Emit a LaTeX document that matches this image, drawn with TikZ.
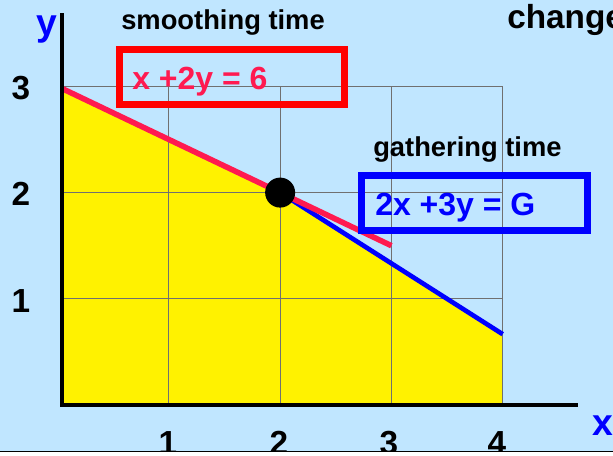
\documentclass[tikz,border=0pt]{standalone}
\usepackage{fontspec}
\setmainfont{Liberation Sans}
\definecolor{bg}{HTML}{C0E6FF}
\definecolor{pinkred}{HTML}{FF1A50}
\definecolor{gridgray}{HTML}{707070}
\tikzset{
  gridline/.style={draw=gridgray, line width=0.75pt},
  axisline/.style={draw=black, line width=2.6pt, line join=miter},
  lbl/.style={inner sep=0pt, anchor=base west, font=\bfseries\fontsize{20.5}{24}\selectfont},
  ticklbl/.style={inner sep=0pt, anchor=base, font=\bfseries\fontsize{25}{30}\selectfont},
  axlbl/.style={inner sep=0pt, anchor=base west, text=blue, font=\bfseries\fontsize{28}{32}\selectfont},
  eqbox/.style={inner sep=0pt, line width=5pt},
  eqtext/.style={inner sep=0pt, anchor=base west, font=\bfseries\fontsize{24}{28}\selectfont}
}
\begin{document}
\begin{tikzpicture}[x=0.75pt,y=-0.75pt]
\useasboundingbox (0,0) rectangle (613,456);
\clip (0,0) rectangle (613,456);
\fill[bg] (0,0) rectangle (613,456);

% tick labels
\node[ticklbl] (t3) at (21,100) {3};
\node[ticklbl] (t2) at (21,205.5) {2};
\node[ticklbl] (t1) at (21,312) {1};
\node[ticklbl] (b1) at (168,454) {1};
\node[ticklbl] (b2) at (279,454) {2};
\node[ticklbl] (b3) at (389,454) {3};
\node[ticklbl] (b4) at (497,454) {4};

\begin{scope}[shift={(57.6,405)}, x=83.45pt, y=79.65pt]
  \coordinate (O) at (0.04,0);
  \coordinate (A) at (0.04,2.98);
  \coordinate (P) at (2,2);
  \coordinate (B) at (4,2/3);
  \coordinate (C) at (4,0);
  \coordinate (R) at (3,1.5);
  \coordinate (ytop) at (0.04,3.69);
  \coordinate (xend) at (4.677,0);
  \fill[yellow] (O) -- (A) -- (P) -- (B) -- (C) -- cycle;
  \foreach \i in {1,...,4} \draw[gridline] (\i,0) -- (\i,3);
  \foreach \j in {1,2,3} \draw[gridline] (0.04,\j) -- (4,\j);
  \draw[blue, line width=3.5pt] (P) -- (B);
  \draw[pinkred, line width=4.2pt] (A) -- (R);
  \draw[axisline] (ytop) -- (O) -- (xend);
  \fill[black] (P) circle[radius=15*0.75pt];
\end{scope}

% axis labels
\node[axlbl] (ylab) at (36,36) {y};
\node[axlbl] (xlab) at (592,435) {x};

% titles
\node[lbl] (smooth) at (121,29.5) {smoothing time};
\node[lbl] (gather) at (373,156.7) {gathering time};
\node[inner sep=0pt, anchor=base west, font=\bfseries\fontsize{25}{30}\selectfont] (change) at (507,29) {change};

% equation boxes
\node[eqbox, draw=red, minimum width=168.75pt, minimum height=41.25pt] (redbox) at (232,77) {};
\node[eqtext, text=pinkred] (redeq) at (132,90) {x +2y = 6};
\node[eqbox, draw=blue, minimum width=169.8pt, minimum height=41.5pt] (bluebox) at (474.5,203) {};
\node[eqtext, text=blue] (blueeq) at (375,215) {2x +3y = G};

% bottom strip
\fill[white] (0,452) rectangle (613,456);
\coordinate (bl) at (0,451.5);
\coordinate (br) at (613,451.5);
\draw[black, line width=0.8pt] (bl) -- (br);
\end{tikzpicture}
\end{document}
